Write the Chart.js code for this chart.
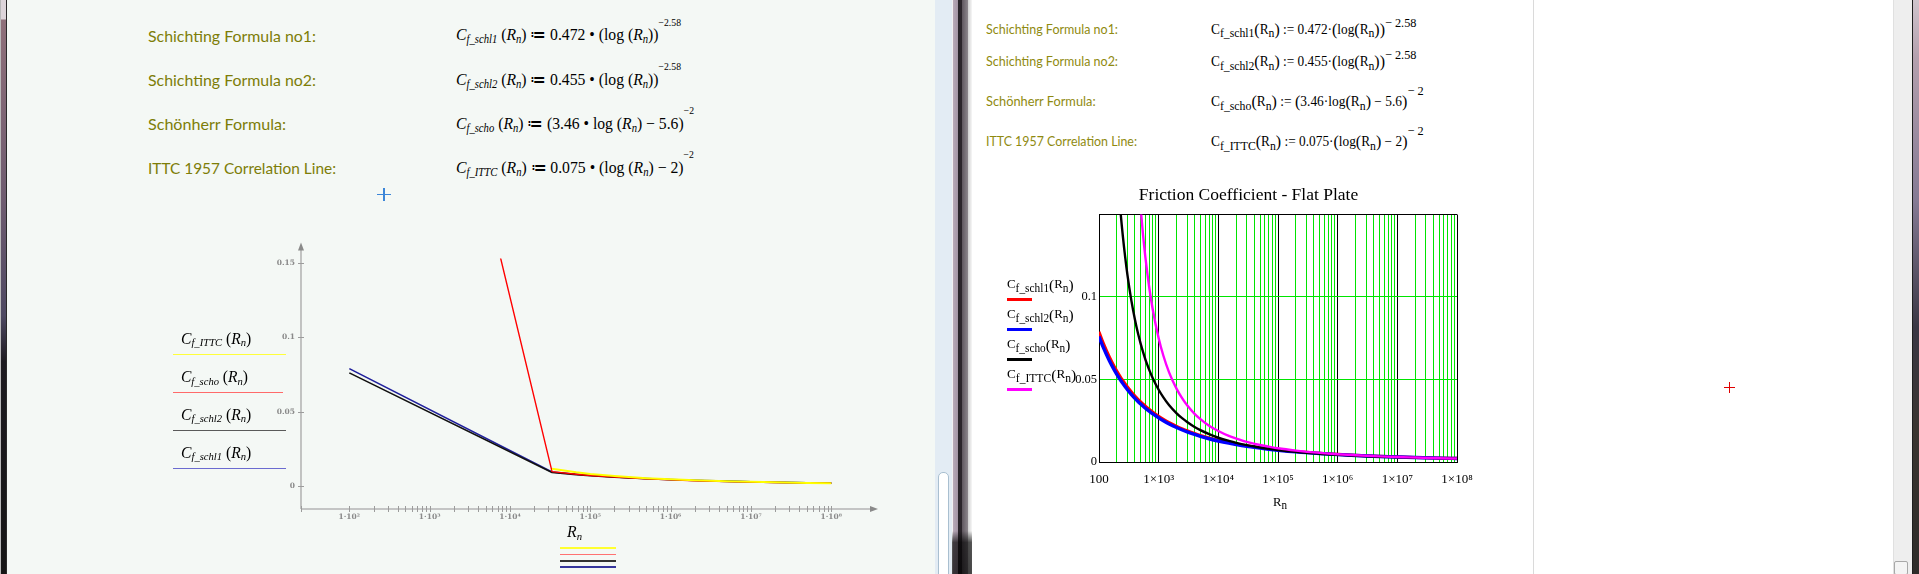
<!DOCTYPE html>
<html><head><meta charset="utf-8">
<script src="https://cdn.jsdelivr.net/npm/chart.js"></script>
<style>
html,body{margin:0;padding:0;}
body{width:1919px;height:574px;overflow:hidden;position:relative;background:#fff;font-family:"Liberation Serif",serif;}
.abs{position:absolute;white-space:nowrap;line-height:1;transform-origin:0 0;}
.box{position:absolute;}
.lbl{font-family:Lato,"Open Sans",sans-serif;}
.lblL{color:#7d7d08;font-size:16px;}
.lblR{color:#8f8a10;font-size:13px;}
.fmL{font-family:"Liberation Serif",serif;font-size:17px;color:#000;}
.fmR{font-family:"Liberation Serif",serif;font-size:14px;color:#000;}
.sb{position:relative;font-size:0.68em;top:0.25em;}
.sb2{position:relative;font-size:0.88em;top:0.3em;line-height:0;}
.pr{position:relative;font-size:1.2em;top:0.08em;line-height:0;}
.sp{position:relative;font-size:0.62em;}
i{font-style:italic;}
.leg{font-family:"Liberation Serif",serif;}
</style>
</head><body>
<!-- window chrome -->
<div class="box" style="left:0;top:0;width:935px;height:574px;background:#f4f8f5;"></div>
<div class="box" style="left:0;top:0;width:7px;height:574px;background:linear-gradient(to bottom,#ddd5da 0,#ddd5da 19px,#8f707a 20px,#6e5c70 35%,#4e4962 55%,#1d1b20 63%,#161616 100%);"></div>
<div class="box" style="left:0;top:0;width:1px;height:574px;background:#b8b8b8;"></div>
<div class="box" style="left:6px;top:0;width:1px;height:574px;background:#2a2a2a;"></div>
<div class="box" style="left:935px;top:0;width:17px;height:574px;background:#e3ecf4;"></div>
<div class="box" style="left:938px;top:472px;width:9px;height:110px;background:#fff;border:1px solid #a9bfd0;border-radius:5px 5px 0 0;"></div>
<div class="box" style="left:952px;top:0;width:20px;height:574px;background:linear-gradient(to bottom,rgba(0,0,0,0) 0,rgba(0,0,0,0) 92.5%,rgba(0,0,0,0.65) 94.5%,rgba(0,0,0,0.7) 100%),linear-gradient(to right,#f2f0f2 0,#f2f0f2 1px,#b9aab8 1px,#a394a4 6px,#2a242a 6px,#2a242a 10px,#5e565e 10px,#8c868c 16px,#cfcfcf 16px,#f7f7f7 20px);"></div>
<div class="box" style="left:972px;top:0;width:921px;height:574px;background:#fff;"></div>
<div class="box" style="left:1533px;top:0;width:1px;height:574px;background:#dadada;"></div>
<div class="box" style="left:1893px;top:0;width:19px;height:574px;background:#eeeeee;border-left:1px solid #e0e0e0;box-sizing:border-box;"></div>
<div class="box" style="left:1894px;top:561px;width:14px;height:14px;border:1px solid #a8a8a8;border-radius:2px;background:#f4f4f4;box-sizing:border-box;"></div>
<div class="box" style="left:1912px;top:0;width:7px;height:574px;background:linear-gradient(to bottom,#cfc4cc 0,#b4a0ae 10%,#857a94 35%,#3a3744 57%,#3a3530 75%,#2e2c2a 100%);"></div>
<div class="box" style="left:1912px;top:0;width:1px;height:574px;background:#1e1e1e;"></div>

<!-- crosses -->
<div class="box" style="left:377px;top:193.5px;width:14px;height:1.6px;background:#3c86d8;"></div>
<div class="box" style="left:383.2px;top:188px;width:1.6px;height:13px;background:#3c86d8;"></div>
<div class="box" style="left:1724px;top:386.5px;width:11px;height:1px;background:#e00000;"></div>
<div class="box" style="left:1729px;top:381.5px;width:1px;height:11px;background:#e00000;"></div>

<canvas id="cL" width="670" height="300" style="position:absolute;left:230px;top:232px;"></canvas>
<canvas id="cR" width="476" height="338" style="position:absolute;left:1040px;top:180px;"></canvas>

<!-- left window texts -->
<div class="abs lbl lblL" style="left:148px;top:27.5px" data-w="168">Schichting Formula no1:</div>
<div class="abs lbl lblL" style="left:148px;top:71.5px" data-w="168">Schichting Formula no2:</div>
<div class="abs lbl lblL" style="left:148px;top:115.8px" data-w="138">Schönherr Formula:</div>
<div class="abs lbl lblL" style="left:148px;top:159.5px" data-w="188">ITTC 1957 Correlation Line:</div>

<div class="abs fmL" style="left:455.6px;top:26.3px" data-w="225"><i>C</i><span class="sb"><i>f_schl1</i></span> (<i>R</i><span class="sb"><i>n</i></span>) ≔ 0.472 • (log (<i>R</i><span class="sb"><i>n</i></span>))<span class="sp" style="top:-14.5px">−2.58</span></div>
<div class="abs fmL" style="left:455.6px;top:70.8px" data-w="225"><i>C</i><span class="sb"><i>f_schl2</i></span> (<i>R</i><span class="sb"><i>n</i></span>) ≔ 0.455 • (log (<i>R</i><span class="sb"><i>n</i></span>))<span class="sp" style="top:-14.5px">−2.58</span></div>
<div class="abs fmL" style="left:455.6px;top:114.8px" data-w="238"><i>C</i><span class="sb"><i>f_scho</i></span> (<i>R</i><span class="sb"><i>n</i></span>) ≔ (3.46 • log (<i>R</i><span class="sb"><i>n</i></span>) − 5.6)<span class="sp" style="top:-14.5px">−2</span></div>
<div class="abs fmL" style="left:455.6px;top:158.8px" data-w="238"><i>C</i><span class="sb"><i>f_ITTC</i></span> (<i>R</i><span class="sb"><i>n</i></span>) ≔ 0.075 • (log (<i>R</i><span class="sb"><i>n</i></span>) − 2)<span class="sp" style="top:-14.5px">−2</span></div>

<!-- left chart legend -->
<div class="abs leg" style="left:180.7px;top:330.6px;font-size:16px" data-w="70.3"><i>C</i><span class="sb"><i>f_ITTC</i></span> (<i>R</i><span class="sb"><i>n</i></span>)</div>
<div class="box" style="left:173.3px;top:353.5px;width:112.4px;height:1.5px;background:#ffff3a;"></div>
<div class="abs leg" style="left:180.7px;top:368.9px;font-size:16px" data-w="67"><i>C</i><span class="sb"><i>f_scho</i></span> (<i>R</i><span class="sb"><i>n</i></span>)</div>
<div class="box" style="left:173.3px;top:391.5px;width:109.4px;height:1.5px;background:#ff6a6a;"></div>
<div class="abs leg" style="left:180.7px;top:406.6px;font-size:16px" data-w="70.3"><i>C</i><span class="sb"><i>f_schl2</i></span> (<i>R</i><span class="sb"><i>n</i></span>)</div>
<div class="box" style="left:173.3px;top:429.5px;width:112.4px;height:1.5px;background:#5a5a5a;"></div>
<div class="abs leg" style="left:180.7px;top:444.6px;font-size:16px" data-w="70.3"><i>C</i><span class="sb"><i>f_schl1</i></span> (<i>R</i><span class="sb"><i>n</i></span>)</div>
<div class="box" style="left:173.3px;top:467.5px;width:112.4px;height:1.5px;background:#6b6bd0;"></div>

<div class="abs leg" style="left:566.7px;top:523.9px;font-size:16px" data-w="15"><i>R</i><span class="sb"><i>n</i></span></div>
<div class="box" style="left:560px;top:546.7px;width:55.7px;height:2.2px;background:#ffff30;"></div>
<div class="box" style="left:560px;top:553.5px;width:55.7px;height:1.2px;background:#ff7272;"></div>
<div class="box" style="left:560px;top:559.7px;width:55.7px;height:2.2px;background:#333333;"></div>
<div class="box" style="left:560px;top:565.7px;width:55.7px;height:2.2px;background:#35359c;"></div>

<!-- right window texts -->
<div class="abs lbl lblR" style="left:986.4px;top:22.8px" data-w="132">Schichting Formula no1:</div>
<div class="abs lbl lblR" style="left:986.4px;top:54.5px" data-w="132">Schichting Formula no2:</div>
<div class="abs lbl lblR" style="left:986.4px;top:94.5px" data-w="109.6">Schönherr Formula:</div>
<div class="abs lbl lblR" style="left:986.4px;top:134.5px" data-w="151">ITTC 1957 Correlation Line:</div>

<div class="abs fmR" style="left:1211.4px;top:22.6px" data-w="205.4">C<span class="sb2">f_schl1</span><span class="pr">(</span>R<span class="sb2">n</span><span class="pr">)</span> := 0.472·<span class="pr">(</span>log<span class="pr">(</span>R<span class="sb2">n</span><span class="pr">))</span><span class="sp" style="top:-7px;font-size:0.92em">− 2.58</span></div>
<div class="abs fmR" style="left:1211.4px;top:55px" data-w="205.4">C<span class="sb2">f_schl2</span><span class="pr">(</span>R<span class="sb2">n</span><span class="pr">)</span> := 0.455·<span class="pr">(</span>log<span class="pr">(</span>R<span class="sb2">n</span><span class="pr">))</span><span class="sp" style="top:-7px;font-size:0.92em">− 2.58</span></div>
<div class="abs fmR" style="left:1211.4px;top:95px" data-w="212.6">C<span class="sb2">f_scho</span><span class="pr">(</span>R<span class="sb2">n</span><span class="pr">)</span> := <span class="pr">(</span>3.46·log<span class="pr">(</span>R<span class="sb2">n</span><span class="pr">)</span> − 5.6<span class="pr">)</span><span class="sp" style="top:-11px;font-size:0.92em">− 2</span></div>
<div class="abs fmR" style="left:1211.4px;top:135px" data-w="212.6">C<span class="sb2">f_ITTC</span><span class="pr">(</span>R<span class="sb2">n</span><span class="pr">)</span> := 0.075·<span class="pr">(</span>log<span class="pr">(</span>R<span class="sb2">n</span><span class="pr">)</span> − 2<span class="pr">)</span><span class="sp" style="top:-11px;font-size:0.92em">− 2</span></div>

<!-- right chart legend -->
<div class="abs leg" style="left:1007px;top:277.3px;font-size:13px" data-w="66.7">C<span class="sb2">f_schl1</span><span class="pr">(</span>R<span class="sb2">n</span><span class="pr">)</span></div>
<div class="box" style="left:1007px;top:298px;width:25px;height:3px;background:#ff0000;"></div>
<div class="abs leg" style="left:1007px;top:307.3px;font-size:13px" data-w="66.7">C<span class="sb2">f_schl2</span><span class="pr">(</span>R<span class="sb2">n</span><span class="pr">)</span></div>
<div class="box" style="left:1007px;top:328px;width:25px;height:3px;background:#0000ff;"></div>
<div class="abs leg" style="left:1007px;top:337.3px;font-size:13px" data-w="63.3">C<span class="sb2">f_scho</span><span class="pr">(</span>R<span class="sb2">n</span><span class="pr">)</span></div>
<div class="box" style="left:1007px;top:358px;width:25px;height:3px;background:#000000;"></div>
<div class="abs leg" style="left:1007px;top:367.3px;font-size:13px" data-w="69.3">C<span class="sb2">f_ITTC</span><span class="pr">(</span>R<span class="sb2">n</span><span class="pr">)</span></div>
<div class="box" style="left:1007px;top:388px;width:25px;height:3px;background:#ff00ff;"></div>
<div class="abs leg" style="left:1272.7px;top:494.7px;font-size:13.5px" data-w="14">R<span class="sb2">n</span></div>

<script>
// ---------- data ----------
// Left (Mathcad Prime) plot: sample points of the range variable
const rnLeft      = [100, 33400, 66700, 1e5, 2e5, 5e5, 1e6, 2e6, 5e6, 1e7, 2e7, 5e7, 1e8];
const cfSchl1Left = [0.07895, 0.00961, 0.00814, 0.00742, 0.00638, 0.00530, 0.00464, 0.00409, 0.00349, 0.00311, 0.00279, 0.00244, 0.00221];
const cfSchl2Left = [0.07610, 0.00926, 0.00785, 0.00716, 0.00615, 0.00511, 0.00447, 0.00394, 0.00336, 0.00300, 0.00269, 0.00235, 0.00213];
const cfSchoLeft  = [0.5739, 0.00990, 0.00813, 0.0073, 0.0062, 0.0050, 0.0044, 0.0038, 0.0032, 0.0029, 0.0026, 0.0023, 0.0021];
const cfIttcLeft  = [null, 0.01178, 0.00940, 0.0083, 0.0069, 0.0055, 0.0047, 0.0041, 0.0034, 0.0030, 0.0027, 0.0023, 0.0021];
const leftXTickValues = [1e2, 1e3, 1e4, 1e5, 1e6, 1e7, 1e8];
const leftXTickLabels = ['1·10²', '1·10³', '1·10⁴', '1·10⁵', '1·10⁶', '1·10⁷', '1·10⁸'];
const leftYTickValues = [0, 0.05, 0.1, 0.15];
const leftYTickLabels = ['0', '0.05', '0.1', '0.15'];

// Right (Mathcad 15) plot
const rnRight = [100,120,150,180,200,225,250,275,300,350,400,450,500,550,600,650,700,800,1000,1200,1500,2000,2500,3000,4000,5000,7000,1e4,1.5e4,2e4,3e4,5e4,7e4,1e5,2e5,5e5,1e6,2e6,5e6,1e7,2e7,5e7,1e8];
const cfSchl1Right = [0.07895,0.07141,0.06350,0.05790,0.05498,0.05194,0.04943,0.04729,0.04545,0.04243,0.04003,0.03807,0.03643,0.03502,0.03381,0.03274,0.03179,0.03018,0.02773,0.02593,0.02394,0.02167,0.02011,0.01895,0.01730,0.01616,0.01462,0.01320,0.01181,0.01095,0.00987,0.00871,0.00805,0.00742,0.00638,0.00530,0.00464,0.00409,0.00349,0.00311,0.00279,0.00244,0.00221];
const cfSchl2Right = [0.07610,0.06884,0.06121,0.05582,0.05300,0.05007,0.04765,0.04559,0.04382,0.04090,0.03859,0.03670,0.03512,0.03376,0.03259,0.03156,0.03065,0.02910,0.02673,0.02499,0.02307,0.02089,0.01938,0.01826,0.01668,0.01557,0.01409,0.01273,0.01139,0.01055,0.00951,0.00840,0.00776,0.00716,0.00615,0.00511,0.00447,0.00394,0.00336,0.00300,0.00269,0.00235,0.00213];
const cfSchoRight  = [0.5739,0.3936,0.2687,0.2060,0.1793,0.1552,0.1375,0.1240,0.1133,0.0975,0.0864,0.0780,0.0716,0.0664,0.0621,0.0586,0.0555,0.0506,0.0438,0.0392,0.0344,0.0295,0.0264,0.0242,0.0212,0.0193,0.0169,0.0147,0.0128,0.0116,0.0102,0.0088,0.0080,0.0073,0.0062,0.0050,0.0044,0.0038,0.0032,0.0029,0.0026,0.0023,0.0021];
const cfIttcRight  = [null,null,null,null,null,null,null,null,0.3295,0.2534,0.2069,0.1758,0.1535,0.1368,0.1239,0.1135,0.1050,0.0920,0.0750,0.0644,0.0542,0.0443,0.0384,0.0344,0.0292,0.0260,0.0220,0.0188,0.0158,0.0142,0.0122,0.0103,0.0093,0.0083,0.0069,0.0055,0.0047,0.0041,0.0034,0.0030,0.0027,0.0023,0.0021];
const rightXDecades    = [1e2, 1e3, 1e4, 1e5, 1e6, 1e7, 1e8];
const rightXTickLabels = ['100', '1×10³', '1×10⁴', '1×10⁵', '1×10⁶', '1×10⁷', '1×10⁸'];
const rightYTickValues = [0, 0.05, 0.1, 0.15];
const rightYTickLabels = ['0', '0.05', '0.1', ''];

// ---------- helpers ----------
function minorGrid(decades){
  const out = [];
  for (let i = 0; i < decades.length - 1; i++) {
    for (let m = 1; m <= 9; m++) out.push(m * decades[i]);
  }
  out.push(decades[decades.length - 1]);
  return out;
}
const leftXAllTicks = minorGrid(leftXTickValues);
const rightXGrid = minorGrid(rightXDecades);
const pts = (xs, ys) => xs.map((x, i) => ({x: x, y: ys[i]}));
const isDecade = v => rightXDecades.some(d => Math.abs(d - v) / d < 1e-9);

// ---------- left chart ----------
const leftAxes = {
  id: 'leftAxes',
  beforeDatasetsDraw(chart) {
    const {ctx, chartArea: a, scales: {x, y}} = chart;
    ctx.save();
    ctx.strokeStyle = '#b5b5b5'; ctx.lineWidth = 1.6;
    ctx.beginPath(); ctx.moveTo(a.left, a.bottom); ctx.lineTo(a.left, a.top + 6); ctx.stroke();
    ctx.beginPath(); ctx.moveTo(a.left, a.bottom); ctx.lineTo(a.right - 6, a.bottom); ctx.stroke();
    ctx.fillStyle = '#8a8a8a';
    ctx.beginPath(); ctx.moveTo(a.left, a.top); ctx.lineTo(a.left - 3, a.top + 8); ctx.lineTo(a.left + 3, a.top + 8); ctx.closePath(); ctx.fill();
    ctx.beginPath(); ctx.moveTo(a.right, a.bottom); ctx.lineTo(a.right - 8, a.bottom - 3); ctx.lineTo(a.right - 8, a.bottom + 3); ctx.closePath(); ctx.fill();
    ctx.strokeStyle = '#9c9c9c'; ctx.lineWidth = 1;
    leftYTickValues.forEach(v => {
      const py = Math.round(y.getPixelForValue(v)) + 0.5;
      ctx.beginPath(); ctx.moveTo(a.left - 3, py); ctx.lineTo(a.left + 3, py); ctx.stroke();
    });
    [x.min].concat(leftXAllTicks).forEach(v => {
      const px = Math.round(x.getPixelForValue(v)) + 0.5;
      ctx.beginPath(); ctx.moveTo(px, a.bottom - 3); ctx.lineTo(px, a.bottom + 3); ctx.stroke();
    });
    ctx.restore();
  }
};
const clipTop = {left: 0, top: -16, right: 0, bottom: 0};
new Chart(document.getElementById('cL'), {
  type: 'line',
  data: { datasets: [
    {label: 'Cf_ITTC', data: pts(rnLeft, cfIttcLeft), borderColor: '#ffff00', borderWidth: 2, order: 1, clip: clipTop},
    {label: 'Cf_scho', data: pts(rnLeft, cfSchoLeft), borderColor: '#ff0000', borderWidth: 1.4, order: 2, clip: clipTop},
    {label: 'Cf_schl2', data: pts(rnLeft, cfSchl2Left), borderColor: '#111111', borderWidth: 1.6, order: 3, clip: clipTop},
    {label: 'Cf_schl1', data: pts(rnLeft, cfSchl1Left), borderColor: '#20209c', borderWidth: 1.6, order: 4, clip: clipTop}
  ]},
  options: {
    responsive: false, animation: false, devicePixelRatio: 1,
    layout: {padding: {top: 10, right: 22, left: 0, bottom: 0}},
    plugins: {legend: {display: false}, tooltip: {enabled: false}},
    elements: {point: {radius: 0}, line: {tension: 0, borderJoinStyle: 'round'}},
    scales: {
      x: {
        type: 'logarithmic', min: 25.03, max: 3.815e8,
        afterBuildTicks: s => { s.ticks = leftXTickValues.map(v => ({value: v})); },
        afterFit: s => { s.height = 23; },
        grid: {display: false, drawTicks: false}, border: {display: false},
        ticks: {autoSkip: false, maxRotation: 0, padding: 4, color: '#8a8a8a',
          font: {family: '"DejaVu Serif"', size: 7.5, weight: 'bold'},
          callback: v => { const i = leftXTickValues.indexOf(v); return i >= 0 ? leftXTickLabels[i] : ''; }}
      },
      y: {
        min: -0.01519, max: 0.16352,
        afterBuildTicks: s => { s.ticks = leftYTickValues.map(v => ({value: v})); },
        afterFit: s => { s.width = 71; },
        grid: {display: false, drawTicks: false}, border: {display: false},
        ticks: {padding: 6, color: '#8a8a8a',
          font: {family: '"DejaVu Serif"', size: 7.5, weight: 'bold'},
          callback: v => { const i = leftYTickValues.indexOf(v); return i >= 0 ? leftYTickLabels[i] : ''; }}
      }
    }
  },
  plugins: [leftAxes]
});

// ---------- right chart ----------
new Chart(document.getElementById('cR'), {
  type: 'line',
  data: { datasets: [
    {label: 'Cf_schl1', data: pts(rnRight, cfSchl1Right), borderColor: '#ff0000', borderWidth: 3, order: 4},
    {label: 'Cf_schl2', data: pts(rnRight, cfSchl2Right), borderColor: '#0000ff', borderWidth: 3.4, order: 3},
    {label: 'Cf_scho', data: pts(rnRight, cfSchoRight), borderColor: '#000000', borderWidth: 2.4, order: 2},
    {label: 'Cf_ITTC', data: pts(rnRight, cfIttcRight), borderColor: '#ff00ff', borderWidth: 2.4, order: 1}
  ]},
  options: {
    responsive: false, animation: false, devicePixelRatio: 1,
    layout: {padding: {top: 0, right: 59, left: 0, bottom: 0}},
    elements: {point: {radius: 0}, line: {cubicInterpolationMode: 'monotone'}},
    plugins: {
      legend: {display: false}, tooltip: {enabled: false},
      title: {display: true, text: 'Friction Coefficient - Flat Plate', color: '#000',
        font: {family: '"Liberation Serif"', size: 17.5, weight: 'normal', lineHeight: 1},
        padding: {top: 7, bottom: 10}}
    },
    scales: {
      x: {
        type: 'logarithmic', min: 100, max: 1e8,
        afterBuildTicks: s => { s.ticks = rightXGrid.map(v => ({value: v})); },
        afterFit: s => { s.height = 56; },
        grid: {color: c => isDecade(c.tick.value) ? '#000000' : '#00e400', lineWidth: 1, drawTicks: false},
        border: {display: true, color: '#000', width: 1},
        ticks: {autoSkip: false, maxRotation: 0, padding: 10, color: '#000',
          font: {family: '"Liberation Serif"', size: 13},
          callback: v => { const i = rightXDecades.indexOf(v); return i >= 0 ? rightXTickLabels[i] : ''; }}
      },
      y: {
        min: 0, max: 0.15,
        afterBuildTicks: s => { s.ticks = rightYTickValues.map(v => ({value: v})); },
        afterFit: s => { s.width = 59; },
        grid: {color: c => (c.tick.value > 0.149 || c.tick.value === 0) ? '#000000' : '#00e400', lineWidth: 1, drawTicks: false},
        border: {display: true, color: '#000', width: 1},
        ticks: {padding: 2, color: '#000', font: {family: '"Liberation Serif"', size: 12.5},
          callback: v => { const i = rightYTickValues.indexOf(v); return i >= 0 ? rightYTickLabels[i] : ''; }}
      }
    }
  }
});

// fit text widths to the reference
function fitTexts(){
  document.querySelectorAll('[data-w]').forEach(el => {
    el.style.transform = 'none';
    const w = el.getBoundingClientRect().width;
    const t = parseFloat(el.dataset.w);
    if (w > 0) el.style.transform = 'scaleX(' + (t / w) + ')';
  });
}
fitTexts();
if (document.fonts && document.fonts.ready) document.fonts.ready.then(fitTexts);
</script>
</body></html>
